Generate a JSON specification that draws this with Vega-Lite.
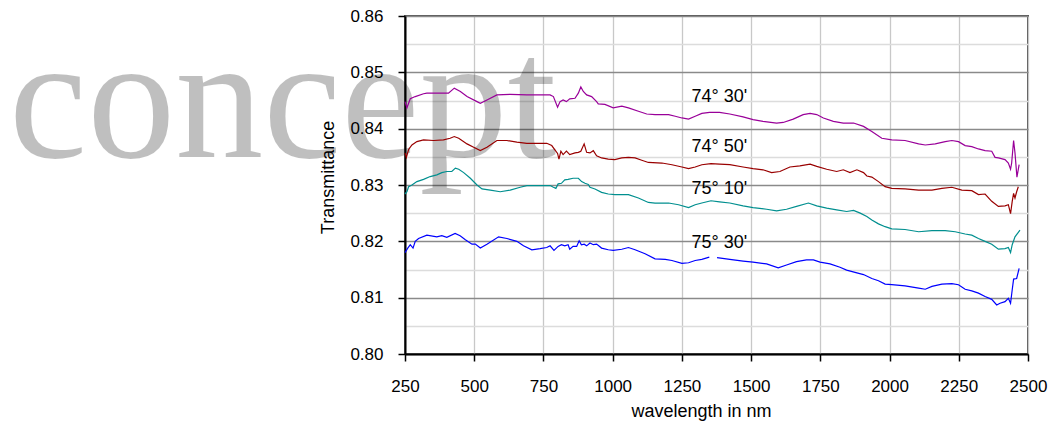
{
  "$schema": "https://vega.github.io/schema/vega-lite/v6.json",
  "width": 623,
  "height": 338,
  "autosize": {"type": "none"},
  "padding": {"left": 405, "top": 16, "right": 22, "bottom": 67},
  "background": "white",
  "config": {"view": {"stroke": "#555555", "strokeWidth": 2}, "font": "Liberation Sans"},
  "datasets": {
    "curves": [
      {"s":"74° 30'","w":250,"t":0.8448},{"s":"74° 30'","w":257,"t":0.8437},{"s":"74° 30'","w":269,"t":0.8453},{"s":"74° 30'","w":287,"t":0.8457},{"s":"74° 30'","w":317,"t":0.8462},{"s":"74° 30'","w":329,"t":0.8463},{"s":"74° 30'","w":370,"t":0.8463},{"s":"74° 30'","w":407,"t":0.8463},{"s":"74° 30'","w":428,"t":0.8472},{"s":"74° 30'","w":450,"t":0.8466},{"s":"74° 30'","w":474,"t":0.8457},{"s":"74° 30'","w":510,"t":0.8448},{"s":"74° 30'","w":522,"t":0.8445},{"s":"74° 30'","w":546,"t":0.8451},{"s":"74° 30'","w":582,"t":0.846},{"s":"74° 30'","w":630,"t":0.8461},{"s":"74° 30'","w":690,"t":0.846},{"s":"74° 30'","w":774,"t":0.846},{"s":"74° 30'","w":786,"t":0.8457},{"s":"74° 30'","w":801,"t":0.8438},{"s":"74° 30'","w":810,"t":0.8448},{"s":"74° 30'","w":821,"t":0.8451},{"s":"74° 30'","w":833,"t":0.8448},{"s":"74° 30'","w":845,"t":0.8453},{"s":"74° 30'","w":864,"t":0.8454},{"s":"74° 30'","w":876,"t":0.8463},{"s":"74° 30'","w":885,"t":0.8474},{"s":"74° 30'","w":894,"t":0.8466},{"s":"74° 30'","w":906,"t":0.846},{"s":"74° 30'","w":924,"t":0.8457},{"s":"74° 30'","w":942,"t":0.8448},{"s":"74° 30'","w":948,"t":0.8444},{"s":"74° 30'","w":972,"t":0.8443},{"s":"74° 30'","w":1002,"t":0.8437},{"s":"74° 30'","w":1033,"t":0.844},{"s":"74° 30'","w":1057,"t":0.8437},{"s":"74° 30'","w":1093,"t":0.8431},{"s":"74° 30'","w":1123,"t":0.8426},{"s":"74° 30'","w":1153,"t":0.8425},{"s":"74° 30'","w":1202,"t":0.8425},{"s":"74° 30'","w":1226,"t":0.8422},{"s":"74° 30'","w":1250,"t":0.8419},{"s":"74° 30'","w":1274,"t":0.8417},{"s":"74° 30'","w":1298,"t":0.8422},{"s":"74° 30'","w":1322,"t":0.8427},{"s":"74° 30'","w":1350,"t":0.8429},{"s":"74° 30'","w":1386,"t":0.8429},{"s":"74° 30'","w":1423,"t":0.8426},{"s":"74° 30'","w":1471,"t":0.8421},{"s":"74° 30'","w":1507,"t":0.8416},{"s":"74° 30'","w":1543,"t":0.8413},{"s":"74° 30'","w":1592,"t":0.841},{"s":"74° 30'","w":1616,"t":0.8411},{"s":"74° 30'","w":1652,"t":0.8417},{"s":"74° 30'","w":1688,"t":0.8425},{"s":"74° 30'","w":1713,"t":0.8427},{"s":"74° 30'","w":1737,"t":0.8425},{"s":"74° 30'","w":1761,"t":0.8419},{"s":"74° 30'","w":1797,"t":0.8413},{"s":"74° 30'","w":1833,"t":0.841},{"s":"74° 30'","w":1870,"t":0.841},{"s":"74° 30'","w":1906,"t":0.8404},{"s":"74° 30'","w":1936,"t":0.8395},{"s":"74° 30'","w":1972,"t":0.8383},{"s":"74° 30'","w":2008,"t":0.838},{"s":"74° 30'","w":2056,"t":0.8379},{"s":"74° 30'","w":2105,"t":0.8373},{"s":"74° 30'","w":2129,"t":0.8371},{"s":"74° 30'","w":2165,"t":0.8373},{"s":"74° 30'","w":2201,"t":0.8377},{"s":"74° 30'","w":2225,"t":0.8379},{"s":"74° 30'","w":2249,"t":0.8377},{"s":"74° 30'","w":2273,"t":0.837},{"s":"74° 30'","w":2297,"t":0.8368},{"s":"74° 30'","w":2321,"t":0.8364},{"s":"74° 30'","w":2345,"t":0.8361},{"s":"74° 30'","w":2369,"t":0.836},{"s":"74° 30'","w":2381,"t":0.8349},{"s":"74° 30'","w":2393,"t":0.8348},{"s":"74° 30'","w":2417,"t":0.8345},{"s":"74° 30'","w":2429,"t":0.8339},{"s":"74° 30'","w":2437,"t":0.8328},{"s":"74° 30'","w":2441,"t":0.8339},{"s":"74° 30'","w":2448,"t":0.8379},{"s":"74° 30'","w":2453,"t":0.8357},{"s":"74° 30'","w":2460,"t":0.8314},{"s":"74° 30'","w":2468,"t":0.8336},

      {"s":"74° 50'","w":250,"t":0.8357},{"s":"74° 50'","w":255,"t":0.8349},{"s":"74° 50'","w":263,"t":0.8363},{"s":"74° 50'","w":275,"t":0.8371},{"s":"74° 50'","w":293,"t":0.8377},{"s":"74° 50'","w":317,"t":0.838},{"s":"74° 50'","w":353,"t":0.8379},{"s":"74° 50'","w":389,"t":0.838},{"s":"74° 50'","w":413,"t":0.8383},{"s":"74° 50'","w":428,"t":0.8386},{"s":"74° 50'","w":444,"t":0.8383},{"s":"74° 50'","w":474,"t":0.8373},{"s":"74° 50'","w":498,"t":0.8367},{"s":"74° 50'","w":522,"t":0.8361},{"s":"74° 50'","w":546,"t":0.8367},{"s":"74° 50'","w":582,"t":0.8379},{"s":"74° 50'","w":618,"t":0.8379},{"s":"74° 50'","w":654,"t":0.8376},{"s":"74° 50'","w":690,"t":0.8374},{"s":"74° 50'","w":738,"t":0.8374},{"s":"74° 50'","w":762,"t":0.8374},{"s":"74° 50'","w":780,"t":0.837},{"s":"74° 50'","w":792,"t":0.8362},{"s":"74° 50'","w":801,"t":0.8356},{"s":"74° 50'","w":806,"t":0.8346},{"s":"74° 50'","w":813,"t":0.836},{"s":"74° 50'","w":821,"t":0.8354},{"s":"74° 50'","w":833,"t":0.836},{"s":"74° 50'","w":845,"t":0.8354},{"s":"74° 50'","w":864,"t":0.8357},{"s":"74° 50'","w":876,"t":0.8358},{"s":"74° 50'","w":885,"t":0.836},{"s":"74° 50'","w":897,"t":0.8373},{"s":"74° 50'","w":906,"t":0.8358},{"s":"74° 50'","w":918,"t":0.8357},{"s":"74° 50'","w":930,"t":0.8361},{"s":"74° 50'","w":942,"t":0.8352},{"s":"74° 50'","w":960,"t":0.8348},{"s":"74° 50'","w":984,"t":0.8346},{"s":"74° 50'","w":1008,"t":0.8345},{"s":"74° 50'","w":1033,"t":0.8348},{"s":"74° 50'","w":1057,"t":0.8349},{"s":"74° 50'","w":1081,"t":0.8348},{"s":"74° 50'","w":1105,"t":0.8344},{"s":"74° 50'","w":1129,"t":0.834},{"s":"74° 50'","w":1178,"t":0.8339},{"s":"74° 50'","w":1214,"t":0.8336},{"s":"74° 50'","w":1250,"t":0.8332},{"s":"74° 50'","w":1274,"t":0.8329},{"s":"74° 50'","w":1298,"t":0.8332},{"s":"74° 50'","w":1322,"t":0.8336},{"s":"74° 50'","w":1355,"t":0.8338},{"s":"74° 50'","w":1386,"t":0.8337},{"s":"74° 50'","w":1423,"t":0.8336},{"s":"74° 50'","w":1471,"t":0.8332},{"s":"74° 50'","w":1507,"t":0.8329},{"s":"74° 50'","w":1543,"t":0.8327},{"s":"74° 50'","w":1574,"t":0.8322},{"s":"74° 50'","w":1604,"t":0.8324},{"s":"74° 50'","w":1640,"t":0.8332},{"s":"74° 50'","w":1676,"t":0.8334},{"s":"74° 50'","w":1713,"t":0.8337},{"s":"74° 50'","w":1737,"t":0.8333},{"s":"74° 50'","w":1773,"t":0.8328},{"s":"74° 50'","w":1809,"t":0.8324},{"s":"74° 50'","w":1833,"t":0.8327},{"s":"74° 50'","w":1857,"t":0.8322},{"s":"74° 50'","w":1882,"t":0.8327},{"s":"74° 50'","w":1906,"t":0.8322},{"s":"74° 50'","w":1918,"t":0.8316},{"s":"74° 50'","w":1936,"t":0.8314},{"s":"74° 50'","w":1960,"t":0.8306},{"s":"74° 50'","w":1984,"t":0.8297},{"s":"74° 50'","w":2008,"t":0.8294},{"s":"74° 50'","w":2056,"t":0.8293},{"s":"74° 50'","w":2105,"t":0.8291},{"s":"74° 50'","w":2153,"t":0.8291},{"s":"74° 50'","w":2189,"t":0.8294},{"s":"74° 50'","w":2225,"t":0.8296},{"s":"74° 50'","w":2261,"t":0.8291},{"s":"74° 50'","w":2297,"t":0.829},{"s":"74° 50'","w":2321,"t":0.8283},{"s":"74° 50'","w":2345,"t":0.8284},{"s":"74° 50'","w":2369,"t":0.8271},{"s":"74° 50'","w":2393,"t":0.8262},{"s":"74° 50'","w":2417,"t":0.8263},{"s":"74° 50'","w":2429,"t":0.8265},{"s":"74° 50'","w":2437,"t":0.8249},{"s":"74° 50'","w":2443,"t":0.8271},{"s":"74° 50'","w":2448,"t":0.8285},{"s":"74° 50'","w":2453,"t":0.8277},{"s":"74° 50'","w":2459,"t":0.8288},{"s":"74° 50'","w":2465,"t":0.8297},

      {"s":"75° 10'","w":250,"t":0.8284},{"s":"75° 10'","w":257,"t":0.8288},{"s":"75° 10'","w":263,"t":0.8297},{"s":"75° 10'","w":275,"t":0.83},{"s":"75° 10'","w":293,"t":0.8306},{"s":"75° 10'","w":317,"t":0.831},{"s":"75° 10'","w":341,"t":0.8315},{"s":"75° 10'","w":365,"t":0.8318},{"s":"75° 10'","w":383,"t":0.8322},{"s":"75° 10'","w":401,"t":0.8324},{"s":"75° 10'","w":419,"t":0.8324},{"s":"75° 10'","w":432,"t":0.833},{"s":"75° 10'","w":444,"t":0.8328},{"s":"75° 10'","w":462,"t":0.8322},{"s":"75° 10'","w":486,"t":0.8312},{"s":"75° 10'","w":510,"t":0.83},{"s":"75° 10'","w":528,"t":0.8293},{"s":"75° 10'","w":558,"t":0.8291},{"s":"75° 10'","w":594,"t":0.8288},{"s":"75° 10'","w":630,"t":0.8291},{"s":"75° 10'","w":666,"t":0.8296},{"s":"75° 10'","w":690,"t":0.8299},{"s":"75° 10'","w":738,"t":0.8299},{"s":"75° 10'","w":774,"t":0.8299},{"s":"75° 10'","w":786,"t":0.8296},{"s":"75° 10'","w":795,"t":0.8294},{"s":"75° 10'","w":803,"t":0.8302},{"s":"75° 10'","w":815,"t":0.8303},{"s":"75° 10'","w":827,"t":0.8309},{"s":"75° 10'","w":839,"t":0.831},{"s":"75° 10'","w":857,"t":0.8312},{"s":"75° 10'","w":876,"t":0.8312},{"s":"75° 10'","w":888,"t":0.8306},{"s":"75° 10'","w":900,"t":0.8303},{"s":"75° 10'","w":912,"t":0.8301},{"s":"75° 10'","w":918,"t":0.8296},{"s":"75° 10'","w":936,"t":0.8293},{"s":"75° 10'","w":960,"t":0.8287},{"s":"75° 10'","w":984,"t":0.8284},{"s":"75° 10'","w":1008,"t":0.8283},{"s":"75° 10'","w":1033,"t":0.8283},{"s":"75° 10'","w":1057,"t":0.8283},{"s":"75° 10'","w":1093,"t":0.8277},{"s":"75° 10'","w":1129,"t":0.8269},{"s":"75° 10'","w":1153,"t":0.8268},{"s":"75° 10'","w":1202,"t":0.8268},{"s":"75° 10'","w":1238,"t":0.8265},{"s":"75° 10'","w":1274,"t":0.826},{"s":"75° 10'","w":1298,"t":0.8265},{"s":"75° 10'","w":1322,"t":0.8268},{"s":"75° 10'","w":1355,"t":0.8272},{"s":"75° 10'","w":1386,"t":0.827},{"s":"75° 10'","w":1423,"t":0.8268},{"s":"75° 10'","w":1471,"t":0.8263},{"s":"75° 10'","w":1507,"t":0.826},{"s":"75° 10'","w":1556,"t":0.8257},{"s":"75° 10'","w":1592,"t":0.8254},{"s":"75° 10'","w":1628,"t":0.8257},{"s":"75° 10'","w":1664,"t":0.8262},{"s":"75° 10'","w":1707,"t":0.8268},{"s":"75° 10'","w":1737,"t":0.8263},{"s":"75° 10'","w":1773,"t":0.8259},{"s":"75° 10'","w":1809,"t":0.8256},{"s":"75° 10'","w":1845,"t":0.8253},{"s":"75° 10'","w":1870,"t":0.8255},{"s":"75° 10'","w":1894,"t":0.825},{"s":"75° 10'","w":1918,"t":0.8244},{"s":"75° 10'","w":1936,"t":0.8238},{"s":"75° 10'","w":1960,"t":0.8231},{"s":"75° 10'","w":1984,"t":0.8226},{"s":"75° 10'","w":2008,"t":0.8222},{"s":"75° 10'","w":2056,"t":0.8221},{"s":"75° 10'","w":2105,"t":0.8217},{"s":"75° 10'","w":2153,"t":0.8219},{"s":"75° 10'","w":2201,"t":0.8219},{"s":"75° 10'","w":2237,"t":0.8217},{"s":"75° 10'","w":2273,"t":0.8213},{"s":"75° 10'","w":2297,"t":0.8211},{"s":"75° 10'","w":2321,"t":0.8205},{"s":"75° 10'","w":2345,"t":0.82},{"s":"75° 10'","w":2369,"t":0.8195},{"s":"75° 10'","w":2393,"t":0.8186},{"s":"75° 10'","w":2417,"t":0.8187},{"s":"75° 10'","w":2429,"t":0.8189},{"s":"75° 10'","w":2437,"t":0.818},{"s":"75° 10'","w":2443,"t":0.8194},{"s":"75° 10'","w":2453,"t":0.8208},{"s":"75° 10'","w":2471,"t":0.822},

      {"s":"75° 30'","w":250,"t":0.818},{"s":"75° 30'","w":260,"t":0.8188},{"s":"75° 30'","w":269,"t":0.8194},{"s":"75° 30'","w":279,"t":0.8188},{"s":"75° 30'","w":287,"t":0.82},{"s":"75° 30'","w":299,"t":0.8205},{"s":"75° 30'","w":329,"t":0.8211},{"s":"75° 30'","w":365,"t":0.8208},{"s":"75° 30'","w":383,"t":0.821},{"s":"75° 30'","w":401,"t":0.8207},{"s":"75° 30'","w":431,"t":0.8214},{"s":"75° 30'","w":449,"t":0.821},{"s":"75° 30'","w":468,"t":0.8203},{"s":"75° 30'","w":492,"t":0.8195},{"s":"75° 30'","w":504,"t":0.8195},{"s":"75° 30'","w":522,"t":0.8188},{"s":"75° 30'","w":546,"t":0.8195},{"s":"75° 30'","w":588,"t":0.8208},{"s":"75° 30'","w":618,"t":0.8205},{"s":"75° 30'","w":654,"t":0.82},{"s":"75° 30'","w":678,"t":0.8192},{"s":"75° 30'","w":708,"t":0.8185},{"s":"75° 30'","w":738,"t":0.8187},{"s":"75° 30'","w":762,"t":0.8189},{"s":"75° 30'","w":774,"t":0.8192},{"s":"75° 30'","w":788,"t":0.8184},{"s":"75° 30'","w":803,"t":0.8191},{"s":"75° 30'","w":815,"t":0.8194},{"s":"75° 30'","w":827,"t":0.8192},{"s":"75° 30'","w":839,"t":0.8194},{"s":"75° 30'","w":845,"t":0.8186},{"s":"75° 30'","w":857,"t":0.8191},{"s":"75° 30'","w":870,"t":0.8191},{"s":"75° 30'","w":879,"t":0.8201},{"s":"75° 30'","w":887,"t":0.8194},{"s":"75° 30'","w":897,"t":0.8195},{"s":"75° 30'","w":906,"t":0.8192},{"s":"75° 30'","w":918,"t":0.8197},{"s":"75° 30'","w":930,"t":0.8194},{"s":"75° 30'","w":942,"t":0.8195},{"s":"75° 30'","w":960,"t":0.8188},{"s":"75° 30'","w":984,"t":0.8185},{"s":"75° 30'","w":1002,"t":0.8184},{"s":"75° 30'","w":1033,"t":0.8186},{"s":"75° 30'","w":1057,"t":0.8189},{"s":"75° 30'","w":1081,"t":0.8185},{"s":"75° 30'","w":1117,"t":0.8178},{"s":"75° 30'","w":1153,"t":0.8169},{"s":"75° 30'","w":1190,"t":0.8168},{"s":"75° 30'","w":1214,"t":0.8166},{"s":"75° 30'","w":1250,"t":0.8161},{"s":"75° 30'","w":1274,"t":0.8162},{"s":"75° 30'","w":1298,"t":0.8166},{"s":"75° 30'","w":1322,"t":0.8168},{"s":"75° 30'","w":1349,"t":0.8172},{"s":"75° 30'","w":1363,"t":null},{"s":"75° 30'","w":1377,"t":0.8171},{"s":"75° 30'","w":1423,"t":0.8168},{"s":"75° 30'","w":1471,"t":0.8165},{"s":"75° 30'","w":1507,"t":0.8163},{"s":"75° 30'","w":1556,"t":0.816},{"s":"75° 30'","w":1598,"t":0.8153},{"s":"75° 30'","w":1628,"t":0.8158},{"s":"75° 30'","w":1664,"t":0.8164},{"s":"75° 30'","w":1700,"t":0.8167},{"s":"75° 30'","w":1725,"t":0.8167},{"s":"75° 30'","w":1749,"t":0.8163},{"s":"75° 30'","w":1785,"t":0.816},{"s":"75° 30'","w":1821,"t":0.8154},{"s":"75° 30'","w":1845,"t":0.8149},{"s":"75° 30'","w":1882,"t":0.8144},{"s":"75° 30'","w":1906,"t":0.8141},{"s":"75° 30'","w":1936,"t":0.8134},{"s":"75° 30'","w":1960,"t":0.813},{"s":"75° 30'","w":1984,"t":0.8124},{"s":"75° 30'","w":2008,"t":0.8123},{"s":"75° 30'","w":2056,"t":0.8121},{"s":"75° 30'","w":2105,"t":0.8117},{"s":"75° 30'","w":2129,"t":0.8115},{"s":"75° 30'","w":2153,"t":0.812},{"s":"75° 30'","w":2189,"t":0.8124},{"s":"75° 30'","w":2225,"t":0.8125},{"s":"75° 30'","w":2249,"t":0.8123},{"s":"75° 30'","w":2273,"t":0.8115},{"s":"75° 30'","w":2297,"t":0.8112},{"s":"75° 30'","w":2321,"t":0.8108},{"s":"75° 30'","w":2345,"t":0.8102},{"s":"75° 30'","w":2369,"t":0.8097},{"s":"75° 30'","w":2387,"t":0.8087},{"s":"75° 30'","w":2399,"t":0.809},{"s":"75° 30'","w":2417,"t":0.8093},{"s":"75° 30'","w":2429,"t":0.8099},{"s":"75° 30'","w":2437,"t":0.809},{"s":"75° 30'","w":2443,"t":0.8114},{"s":"75° 30'","w":2448,"t":0.8133},{"s":"75° 30'","w":2459,"t":0.8134},{"s":"75° 30'","w":2468,"t":0.8152}
    ],
    "labels": [
      {"lab":"74° 30'","w":1385,"t":0.8457},
      {"lab":"74° 50'","w":1385,"t":0.8368},
      {"lab":"75° 10'","w":1385,"t":0.8293},
      {"lab":"75° 30'","w":1385,"t":0.8197}
    ],
    "wm": [{"word":"concept","w":-1180,"t":0.835}]
  },
  "encoding": {
    "x": {
      "field": "w", "type": "quantitative",
      "scale": {"domain": [250, 2500], "nice": false, "zero": false},
      "axis": {
        "values": [250, 500, 750, 1000, 1250, 1500, 1750, 2000, 2250, 2500],
        "format": "d",
        "title": "wavelength in nm",
        "grid": true, "gridColor": "#c8c8c8", "gridWidth": 1.3,
        "domainColor": "black", "domainWidth": 2,
        "tickColor": "black", "tickSize": 7, "tickWidth": 1.5,
        "labelFont": "Liberation Sans", "labelFontSize": 17, "labelColor": "black", "labelPadding": 17,
        "labelFlush": false, "labelOverlap": false,
        "titleFont": "Liberation Sans", "titleFontSize": 18, "titleFontWeight": "normal", "titleColor": "black",
        "titleX": 296, "titleY": 62, "titleBaseline": "alphabetic", "titleAlign": "center", "titleAnchor": "start"
      }
    },
    "y": {
      "field": "t", "type": "quantitative",
      "scale": {"domain": [0.8, 0.86], "nice": false, "zero": false},
      "axis": {
        "values": [0.8, 0.805, 0.81, 0.815, 0.82, 0.825, 0.83, 0.835, 0.84, 0.845, 0.85, 0.855, 0.86],
        "title": "Transmittance",
        "grid": true,
        "gridColor": {"condition": {"test": "round(datum.value*1000)%10==0", "value": "#8a8a8a"}, "value": "#dcdcdc"},
        "gridWidth": 1.3,
        "tickOpacity": {"condition": {"test": "round(datum.value*1000)%10==0", "value": 1}, "value": 0},
        "labelExpr": "round(datum.value*1000)%10==0 ? format(datum.value, '.2f') : ''",
        "domainColor": "black", "domainWidth": 2,
        "tickColor": "black", "tickSize": 7, "tickWidth": 1.5,
        "labelFont": "Liberation Sans", "labelFontSize": 17, "labelColor": "black", "labelPadding": 15,
        "labelFlush": false, "labelOverlap": false,
        "titleFont": "Liberation Sans", "titleFontSize": 18, "titleFontWeight": "normal", "titleColor": "black",
        "titleX": -72, "titleY": 161, "titleAngle": 270, "titleBaseline": "alphabetic", "titleAlign": "center", "titleAnchor": "start"
      }
    }
  },
  "layer": [
    {
      "data": {"name": "wm"},
      "mark": {"type": "text", "font": "Liberation Serif", "fontSize": 176, "align": "left", "baseline": "alphabetic", "color": "black", "opacity": 0.247},
      "encoding": {"text": {"field": "word"}}
    },
    {
      "data": {"name": "curves"},
      "mark": {"type": "line", "strokeWidth": 1.2},
      "encoding": {
        "color": {
          "field": "s", "type": "nominal",
          "scale": {"domain": ["74° 30'", "74° 50'", "75° 10'", "75° 30'"], "range": ["#990099", "#990000", "#008f8f", "#0000ff"]},
          "legend": null
        }
      }
    },
    {
      "data": {"name": "labels"},
      "mark": {"type": "text", "font": "Liberation Sans", "fontSize": 18, "align": "center", "baseline": "middle", "color": "black"},
      "encoding": {"text": {"field": "lab"}}
    }
  ]
}
